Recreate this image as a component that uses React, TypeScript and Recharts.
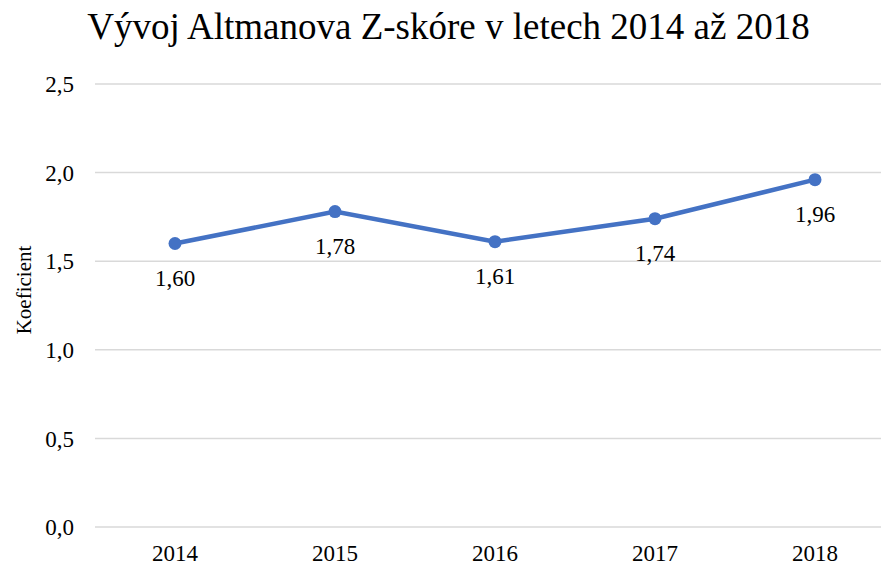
import React from 'react';
import { LineChart, Line, XAxis, YAxis, CartesianGrid, LabelList } from 'recharts';

const years = ['2014', '2015', '2016', '2017', '2018'];
const zScores = [1.6, 1.78, 1.61, 1.74, 1.96];
const yTicks = [0, 0.5, 1, 1.5, 2, 2.5];
const titleText = 'Vývoj Altmanova Z-skóre v letech 2014 až 2018';
const yLabelText = 'Koeficient';

const data = years.map((y, i) => ({ year: y, value: zScores[i] }));

const FONT = '"Liberation Serif", "Times New Roman", serif';
const fmt1 = (v: number) => v.toFixed(1).replace('.', ',');
const fmt2 = (v: number) => v.toFixed(2).replace('.', ',');

const YLabel = () => (
  <text
    x={0}
    y={0}
    transform="translate(31, 290) rotate(-90)"
    textAnchor="middle"
    style={{ fontFamily: FONT, fontSize: 21 }}
    fill="#000"
  >
    {yLabelText}
  </text>
);

export default function App() {
  return (
    <div
      style={{
        position: 'absolute',
        left: 0,
        top: 0,
        width: 881,
        height: 564,
        overflow: 'hidden',
        background: '#fff',
        fontFamily: FONT,
      }}
    >
      <div
        style={{
          position: 'absolute',
          left: 0,
          top: 5,
          width: 897,
          textAlign: 'center',
          fontFamily: FONT,
          fontSize: 37,
          lineHeight: '44px',
          color: '#000',
          whiteSpace: 'nowrap',
        }}
      >
        {titleText}
      </div>
      <LineChart width={895} height={564} data={data} margin={{ top: 84, right: 0, bottom: 0, left: 0 }}>
        <CartesianGrid vertical={false} stroke="#D9D9D9" strokeWidth={1.5} />
        <XAxis
          dataKey="year"
          height={37}
          padding={{ left: 80, right: 80 }}
          axisLine={false}
          tickLine={false}
          tickSize={0}
          tickMargin={18}
          tick={{ fontSize: 23, fill: '#000', style: { fontFamily: FONT } }}
        />
        <YAxis
          width={95}
          domain={[0, 2.5]}
          ticks={yTicks}
          tickFormatter={fmt1}
          axisLine={false}
          tickLine={false}
          tickSize={0}
          tickMargin={21}
          tick={{ fontSize: 23, fill: '#000', style: { fontFamily: FONT } }}
          label={<YLabel />}
        />
        <Line
          type="linear"
          dataKey="value"
          stroke="#4472C4"
          strokeWidth={4.5}
          dot={{ r: 6.5, fill: '#4472C4', stroke: 'none' }}
          activeDot={false}
          isAnimationActive={false}
        >
          <LabelList
            dataKey="value"
            position="bottom"
            offset={26}
            formatter={(v: any) => fmt2(Number(v))}
            style={{ fontFamily: FONT, fontSize: 23, fill: '#000' }}
          />
        </Line>
      </LineChart>
    </div>
  );
}
